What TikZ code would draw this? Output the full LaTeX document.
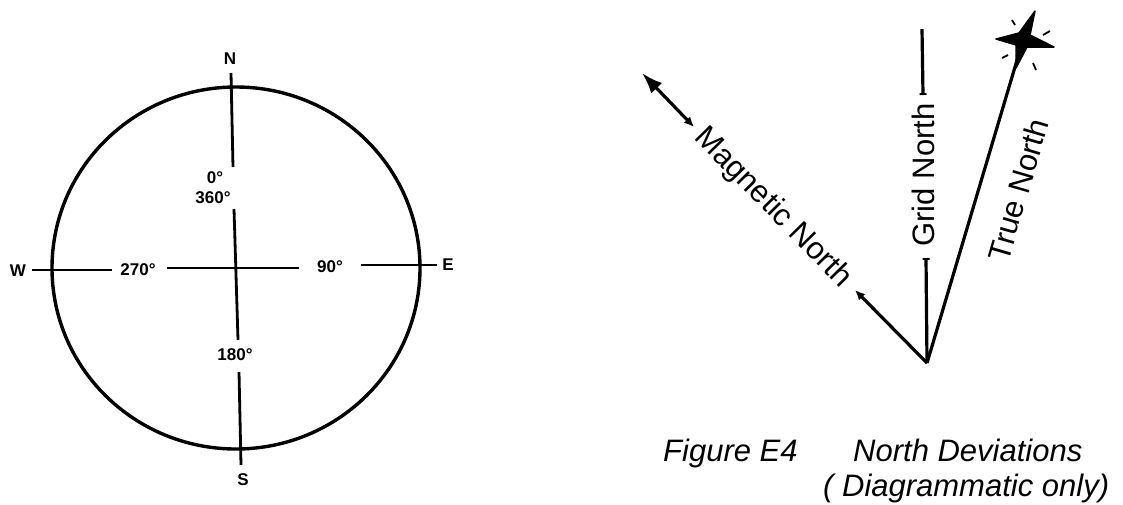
\documentclass[tikz,border=0pt]{standalone}
\usepackage{fontspec}
\setmainfont{Liberation Sans}
\usetikzlibrary{arrows.meta}
\begin{document}
\begin{tikzpicture}[x=1pt,y=-1pt,
  cmp/.style={font=\fontsize{17}{20}\selectfont\bfseries, inner sep=0pt},
  dirlbl/.style={font=\fontsize{31}{36}\selectfont, inner sep=0pt},
  captxt/.style={font=\fontsize{31}{36}\selectfont\itshape, inner sep=0pt, anchor=base west},
  cline/.style={line width=2.8pt},
  nline/.style={line width=3.2pt},
  ray/.style={line width=1.8pt}]
\useasboundingbox (0,0) rectangle (1123,504);

% ---------- compass ----------
\draw[line width=3.4pt] (236,268) ellipse [x radius=184, y radius=181];

\node[cmp] (N) at (230,59) {N};
\node[cmp] (deg0) at (215,178) {0°};
\node[cmp] (deg360) at (213,198) {360°};
\node[cmp] (deg270) at (138,270) {270°};
\node[cmp] (deg90) at (330,267) {90°};
\node[cmp] (deg180) at (235,355) {180°};
\node[cmp] (S) at (243,480) {S};
\node[cmp] (W) at (18,271) {W};
\node[cmp] (E) at (448,265) {E};

\coordinate (n1) at (231,73);
\coordinate (n2) at (233,167);
\coordinate (c1) at (234,209);
\coordinate (c2) at (238,340);
\coordinate (s1) at (239,372);
\coordinate (s2) at (241,465);
\coordinate (w1) at (32,270);
\coordinate (w2) at (112,270);
\coordinate (h1) at (167,268);
\coordinate (h2) at (299,268);
\coordinate (e1) at (361,265);
\coordinate (e2) at (437,265);

\draw[cline] (n1) -- (n2);
\draw[cline] (c1) -- (c2);
\draw[cline] (s1) -- (s2);
\draw[cline] (w1) -- (w2);
\draw[cline] (h1) -- (h2);
\draw[cline] (e1) -- (e2);

% ---------- north deviations ----------
\coordinate (apex) at (927,363);

% Magnetic North
\coordinate (mtip) at (642,73);
\coordinate (mup) at (694,127);
\coordinate (mlow) at (855,290);
\node[dirlbl, rotate=-45.5] (mag) at (773,208) {Magnetic North};
\draw[nline, {Latex[length=10pt,width=9pt]}-{Latex[length=21pt,width=15pt]}] (mup) -- (mtip);
\draw[nline, -{Latex[length=10pt,width=9pt]}] (apex) -- (mlow);

% Grid North
\coordinate (gtop) at (922,29);
\coordinate (gt2) at (923,95);
\coordinate (gb1) at (926,258);
\node[dirlbl, rotate=90] (grid) at (923,175) {Grid North};
\draw[nline, -{Bar[width=7pt,line width=1.8pt]}] (gtop) -- (gt2);
\draw[nline, {Bar[width=7pt,line width=1.8pt]}-] (gb1) -- (apex);

% True North
\coordinate (star) at (1023,40);
\node[dirlbl, rotate=73.8] (true) at (1018,190) {True North};
\draw[nline] (apex) -- (star);
\fill[line join=round, draw, line width=1.5pt]
  (1035,11) -- (1030,35) -- (1054,47) -- (1027,47) -- (1016,68)
  -- (1016,45) -- (996,39) -- (1019,33) -- cycle;
\draw[ray] (1012,20) -- (1015,25);
\draw[ray] (1043,35) -- (1050,31);
\draw[ray] (1002,58) -- (1008,55);
\draw[ray] (1033,63) -- (1036,70);

% caption
\node[captxt] (fig) at (663,461) {Figure E4};
\node[captxt] (title) at (853,461) {North Deviations};
\node[captxt] (sub) at (823,496) {( Diagrammatic only)};
\end{tikzpicture}
\end{document}
